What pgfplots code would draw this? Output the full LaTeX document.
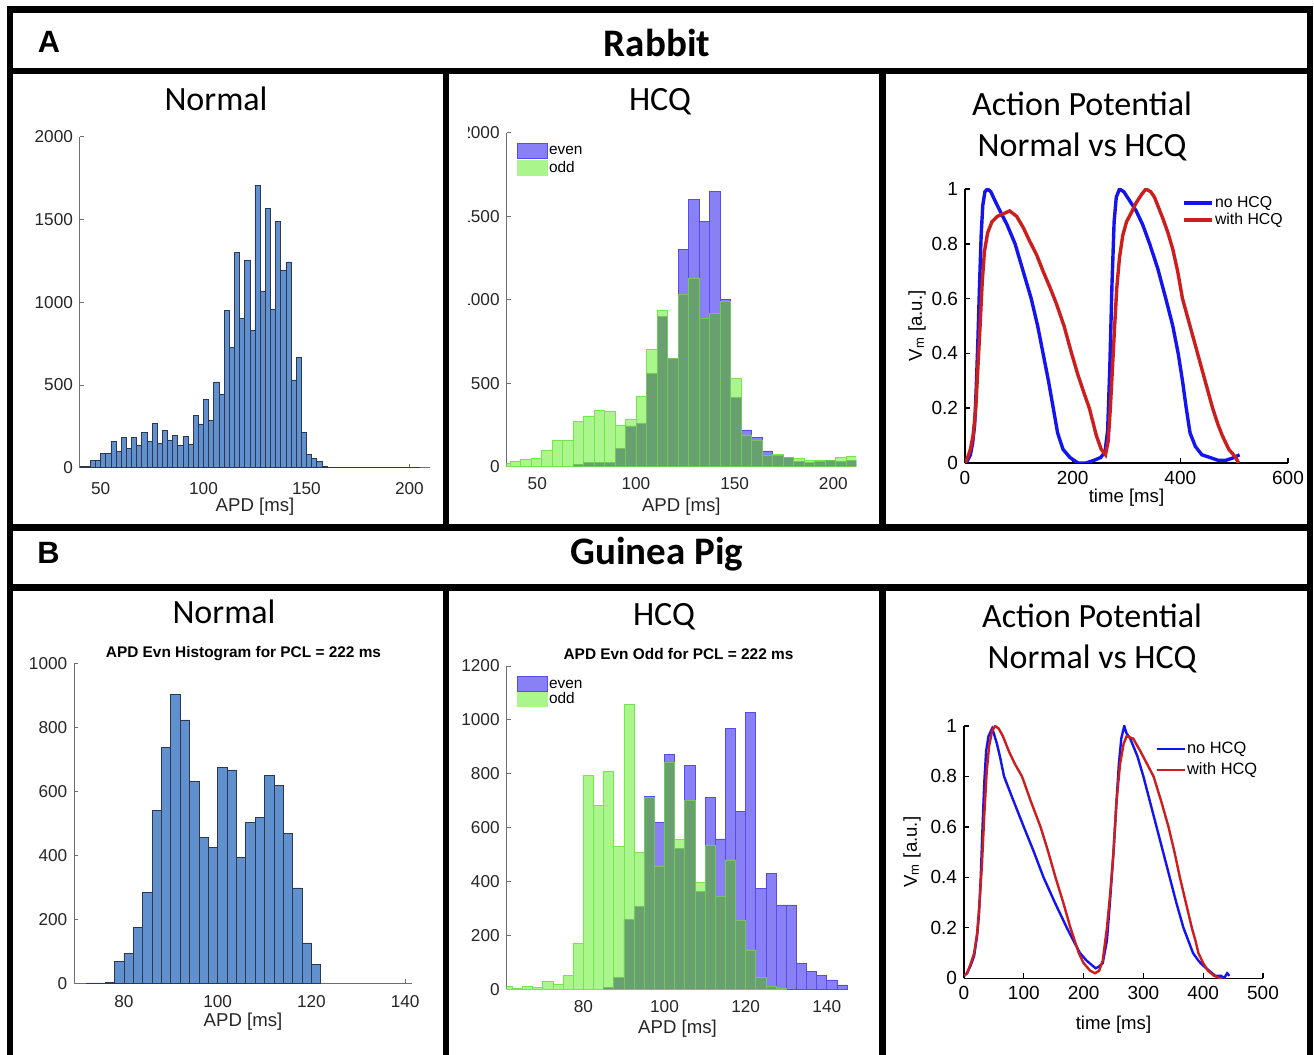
\documentclass[border=0pt]{standalone}
\usepackage{fontspec}
\setmainfont{Liberation Sans}
\newfontfamily\calibri{Carlito}
\usepackage{pgfplots}
\pgfplotsset{compat=1.18}

\definecolor{nbar}{RGB}{97,144,207}
\definecolor{nedge}{RGB}{45,55,80}
\definecolor{evenf}{RGB}{138,128,245}
\definecolor{evene}{RGB}{85,75,240}
\definecolor{oddf}{RGB}{170,245,140}
\definecolor{odde}{RGB}{115,230,75}
\definecolor{ovf}{RGB}{105,160,112}
\definecolor{ove}{RGB}{115,200,90}
\definecolor{apblue}{RGB}{20,20,240}
\definecolor{apred}{RGB}{205,30,30}
\definecolor{axgray}{RGB}{110,110,110}

\pgfplotsset{
  hist/.style={
    scale only axis, anchor=south west,
    axis x line=bottom, axis y line=left,
    axis line style={-, draw=axgray, line width=0.5pt},
    tick align=inside, major tick length=2pt,
    tick style={draw=axgray, line width=0.4pt},
    ticklabel style={font=\fontsize{8.6}{10}\selectfont, text=black!85},
    /pgf/number format/assume math mode=true,
    /pgf/number format/1000 sep={},
    xlabel style={font=\fontsize{9.3}{11}\selectfont, text=black!85, at={(axis description cs:0.5,0)}, anchor=center},
    ymin=0,
    legend style={draw=none, fill=none, at={(axis description cs:0,1)}, anchor=north west,
      font=\fontsize{7.7}{9}\selectfont, inner sep=0pt, row sep=0pt,
      nodes={inner sep=0.6pt, text height=5.8pt, text depth=1.6pt}},
    legend cell align=left,
  },
  apax/.style={
    scale only axis, anchor=south west,
    axis x line=bottom, axis y line=left,
    axis line style={-, draw=black, line width=1pt},
    tick align=inside, major tick length=2.5pt,
    tick style={draw=black, line width=0.8pt},
    ticklabel style={font=\fontsize{9.5}{11}\selectfont},
    /pgf/number format/assume math mode=true,
    xlabel style={font=\fontsize{9.3}{11}\selectfont, at={(axis description cs:0.5,0)}, anchor=center},
    ylabel style={font=\fontsize{9.3}{11}\selectfont, anchor=center},
    ymin=0, ymax=1, ytick={0,0.2,0.4,0.6,0.8,1},
    xticklabel style={yshift=-0.5pt},
    legend style={draw=none, fill=none, anchor=north west,
      font=\fontsize{7.9}{9}\selectfont, inner sep=0pt,
      nodes={inner sep=0.6pt, text height=5.8pt, text depth=1.6pt}},
    legend cell align=left,
    legend image code/.code={\draw[#1] (0pt,0pt) -- (14pt,0pt);},
  },
}

\begin{document}
\begin{tikzpicture}
\path[use as bounding box] (0,0) rectangle (657pt,527.5pt);
\fill[white] (0,0) rectangle (657pt,527.5pt);

% ---------- Rabbit Normal ----------
\begin{scope}
\clip (5pt,263.75pt) rectangle (223pt,492pt);
\begin{axis}[hist, at={(40pt,293.65pt)}, width=175pt, height=165.5pt,
  xmin=40, xmax=210, ymax=2000, xtick={50,100,150,200}, ytick={0,500,1000,1500,2000},
  xlabel={APD [ms]}, xlabel style={yshift=-19.5pt}, xticklabel style={yshift=-4pt}]
\addplot[ybar interval, fill=nbar, draw=nedge, line width=0.35pt] coordinates {
(40,10) (42.5,10) (45,46) (47.5,42) (50,87) (52.5,87) (55,161) (57.5,97) (60,183) (62.5,115)
(65,183) (67.5,137) (70,215) (72.5,157) (75,266) (77.5,147) (80,224) (82.5,167) (85,195) (87.5,133)
(90,189) (92.5,139) (95,316) (97.5,264) (100,413) (102.5,288) (105,518) (107.5,445) (110,949) (112.5,725)
(115,1303) (117.5,902) (120,1251) (122.5,828) (125,1708) (127.5,1065) (130,1569) (132.5,955) (135,1486) (137.5,1190)
(140,1243) (142.5,530) (145,665) (147.5,213) (150,80) (152.5,54) (155,36) (157.5,10) (160,3) (162.5,3)
(165,2) (167.5,2) (170,2) (172.5,1) (175,1) (177.5,3) (180,3) (182.5,3) (185,3) (187.5,3)
(190,2) (192.5,2) (195,2) (197.5,2) (200,2) (202.5,2) (205,0)};
\end{axis}
\end{scope}

% ---------- Rabbit HCQ ----------
\begin{scope}
\clip (234.2pt,263.75pt) rectangle (441.25pt,492pt);
\begin{axis}[hist, at={(253.35pt,294.15pt)}, width=174.65pt, height=167pt,
  xmin=34.5, xmax=211.5, ymax=2000, xtick={50,100,150,200}, ytick={0,500,1000,1500,2000},
  xlabel={APD [ms]}, xlabel style={yshift=-20pt}, xticklabel style={yshift=-2pt},
  legend style={xshift=5pt, yshift=-4.5pt}]
\addplot[ybar interval, fill=evenf, draw=evene, line width=0.35pt, forget plot] coordinates {
(68.2,16) (73.5,26) (78.9,28) (84.2,26) (89.5,110) (94.8,244) (100.1,260) (105.5,560) (110.8,900) (116.1,650)
(121.4,1300) (126.7,1600) (132.1,1470) (137.4,1650) (142.7,1000) (148.0,416) (153.3,220) (158.7,174) (164.0,94) (169.3,70)
(174.6,54) (179.9,34) (185.3,26) (190.6,30) (195.9,36) (201.2,34) (206.5,40) (211.9,0)};
\addplot[ybar interval, fill=oddf, draw=odde, line width=0.35pt, forget plot] coordinates {
(31.0,20) (36.3,30) (41.6,44) (46.9,50) (52.3,100) (57.6,160) (62.9,160) (68.2,270) (73.5,304) (78.9,340)
(84.2,330) (89.5,250) (94.8,286) (100.1,420) (105.5,700) (110.8,936) (116.1,650) (121.4,1030) (126.7,1130) (132.1,890)
(137.4,918) (142.7,990) (148.0,530) (153.3,190) (158.7,160) (164.0,70) (169.3,74) (174.6,54) (179.9,50) (185.3,36)
(190.6,36) (195.9,40) (201.2,56) (206.5,60) (211.9,0)};
\addplot[ybar interval, fill=ovf, draw=ove, line width=0.35pt, forget plot] coordinates {
(68.2,16) (73.5,26) (78.9,28) (84.2,26) (89.5,110) (94.8,244) (100.1,260) (105.5,560) (110.8,900) (116.1,650)
(121.4,1030) (126.7,1130) (132.1,890) (137.4,918) (142.7,990) (148.0,416) (153.3,190) (158.7,160) (164.0,70) (169.3,70)
(174.6,54) (179.9,34) (185.3,26) (190.6,30) (195.9,36) (201.2,34) (206.5,40) (211.9,0)};
\addlegendimage{legend image code/.code={\filldraw[fill=evenf, draw=evene, line width=0.3pt] (0pt,-3.6pt) rectangle (15pt,3.6pt);}}
\addlegendentry{even}
\addlegendimage{legend image code/.code={\fill[oddf] (0pt,-3.6pt) rectangle (15pt,3.6pt);}}
\addlegendentry{odd}
\end{axis}
\end{scope}

% ---------- Rabbit AP ----------
\begin{scope}
\clip (441.25pt,263.75pt) rectangle (655pt,492pt);
\begin{axis}[apax, at={(482.5pt,296pt)}, width=161.5pt, height=137pt,
  xmin=0, xmax=600, xtick={0,200,400,600},
  xlabel={time [ms]}, xlabel style={yshift=-17.3pt},
  ylabel={V\textsubscript{m} [a.u.]}, ylabel style={at={(axis description cs:-0.1486,0.5)}},
  legend style={at={(axis description cs:0.672,1)}, yshift=-2.5pt}]
\addplot[apblue, line width=1.7pt] coordinates {
(0,0) (5,0.01) (10,0.03) (14,0.07) (18,0.14) (21,0.28) (24,0.45) (27,0.65) (30,0.83) (33,0.94)
(37,0.99) (42,1.0) (48,0.99) (55,0.96) (65,0.92) (78,0.87) (93,0.8) (108,0.7) (123,0.6) (135,0.5)
(145,0.4) (155,0.3) (164,0.2) (172,0.11) (182,0.05) (195,0.02) (210,0.0) (225,0.0) (240,0.01) (252,0.02)
(260,0.04) (265,0.12) (269,0.35) (273,0.65) (277,0.88) (281,0.97) (287,1.0) (295,0.99) (305,0.96) (318,0.92)
(330,0.87) (343,0.8) (358,0.71) (373,0.6) (386,0.5) (396,0.4) (404,0.3) (411,0.2) (418,0.11) (428,0.06)
(440,0.03) (455,0.02) (470,0.01) (485,0.01) (500,0.02) (510,0.03)};
\addlegendentry{no HCQ}
\addplot[apred, line width=1.7pt] coordinates {
(0,0) (5,0.02) (10,0.05) (15,0.1) (20,0.2) (24,0.35) (28,0.5) (32,0.66) (36,0.77) (42,0.84)
(50,0.88) (60,0.9) (72,0.91) (83,0.92) (96,0.9) (108,0.86) (120,0.81) (133,0.76) (145,0.7) (158,0.64)
(170,0.58) (184,0.5) (198,0.4) (210,0.32) (222,0.25) (231,0.2) (244,0.1) (253,0.05) (261,0.03) (266,0.08)
(270,0.2) (274,0.35) (278,0.5) (282,0.64) (287,0.75) (293,0.83) (300,0.88) (308,0.91) (318,0.95) (328,0.98)
(336,1.0) (345,0.99) (352,0.97) (360,0.93) (368,0.89) (377,0.84) (386,0.78) (395,0.7) (404,0.6) (418,0.5)
(432,0.4) (446,0.3) (460,0.2) (470,0.14) (478,0.1) (490,0.05) (503,0.02) (508,0.0)};
\addlegendentry{with HCQ}
\end{axis}
\end{scope}

% ---------- Guinea Pig Normal ----------
\begin{scope}
\clip (5pt,0pt) rectangle (223pt,233.75pt);
\begin{axis}[hist, at={(37.15pt,35.85pt)}, width=168.7pt, height=160pt,
  xmin=69.4, xmax=141.4, ymax=1000, xtick={80,100,120,140}, ytick={0,200,400,600,800,1000},
  xlabel={APD [ms]}, xlabel style={yshift=-19.2pt}, xticklabel style={yshift=-2.5pt}]
\addplot[ybar interval, fill=nbar, draw=nedge, line width=0.35pt] coordinates {
(72,1) (74,1) (76,3) (78,68) (80,94) (82,175) (84,284) (86,540) (88,737) (90,904)
(92,823) (94,632) (96,457) (98,424) (100,674) (102,667) (104,394) (106,502) (108,519) (110,650)
(112,618) (114,469) (116,298) (118,126) (120,60) (122,0)};
\end{axis}
\end{scope}

% ---------- Guinea Pig HCQ ----------
\begin{scope}
\clip (223pt,0pt) rectangle (441.25pt,233.75pt);
\begin{axis}[hist, at={(253.35pt,32.85pt)}, width=170.8pt, height=161.65pt,
  xmin=61.1, xmax=145.3, ymax=1200, xtick={80,100,120,140}, ytick={0,200,400,600,800,1000,1200},
  xlabel={APD [ms]}, xlabel style={yshift=-19.5pt}, xticklabel style={yshift=-2pt},
  legend style={xshift=5pt, yshift=-4.5pt, row sep=-1pt}]
\addplot[ybar interval, fill=evenf, draw=evene, line width=0.35pt, forget plot] coordinates {
(85,6) (87.5,45) (90,260) (92.5,307) (95,715) (97.5,619) (100,873) (102.5,523) (105,832) (107.5,362)
(110,711) (112.5,558) (115,968) (117.5,659) (120,1028) (122.5,375) (125,430) (127.5,313) (130,313) (132.5,96)
(135,66) (137.5,50) (140,35) (142.5,16) (145,0)};
\addplot[ybar interval, fill=oddf, draw=odde, line width=0.35pt, forget plot] coordinates {
(60,10) (62.5,4) (65,10) (67.5,7) (70,28) (72.5,20) (75,50) (77.5,171) (80,795) (82.5,684)
(85,808) (87.5,529) (90,1058) (92.5,507) (95,712) (97.5,458) (100,842) (102.5,557) (105,700) (107.5,396)
(110,536) (112.5,344) (115,480) (117.5,255) (120,146) (122.5,43) (125,10) (127.5,2) (130,0)};
\addplot[ybar interval, fill=ovf, draw=ove, line width=0.35pt, forget plot] coordinates {
(85,6) (87.5,45) (90,260) (92.5,307) (95,712) (97.5,458) (100,842) (102.5,523) (105,700) (107.5,362)
(110,536) (112.5,344) (115,480) (117.5,255) (120,146) (122.5,43) (125,10) (127.5,2) (130,0)};
\addlegendimage{legend image code/.code={\filldraw[fill=evenf, draw=evene, line width=0.3pt] (0pt,-3.6pt) rectangle (15pt,3.6pt);}}
\addlegendentry{even}
\addlegendimage{legend image code/.code={\fill[oddf] (0pt,-3.6pt) rectangle (15pt,3.6pt);}}
\addlegendentry{odd}
\end{axis}
\end{scope}

% ---------- Guinea Pig AP ----------
\begin{scope}
\clip (441.25pt,0pt) rectangle (655pt,233.75pt);
\begin{axis}[apax, at={(482pt,38.35pt)}, width=149.5pt, height=126.15pt,
  axis line style={line width=0.75pt}, tick style={line width=0.6pt},
  xmin=0, xmax=500, xtick={0,100,200,300,400,500},
  xlabel={time [ms]}, xlabel style={yshift=-23.4pt},
  ylabel={V\textsubscript{m} [a.u.]}, ylabel style={at={(axis description cs:-0.174,0.5)}},
  legend style={at={(axis description cs:0.639,1)}, yshift=-7pt, row sep=2pt, font=\fontsize{8.2}{9}\selectfont}]
\addplot[apblue, line width=1.2pt] coordinates {
(0,0.01) (5,0.02) (11,0.05) (17,0.09) (22,0.17) (25,0.25) (28,0.4) (31,0.6) (34,0.78) (37,0.9)
(41,0.96) (47,0.99) (50,0.97) (55,0.93) (60,0.88) (67,0.8) (80,0.72) (90,0.66) (100,0.6) (117,0.5)
(133,0.4) (152,0.3) (172,0.2) (185,0.14) (194,0.1) (205,0.07) (215,0.05) (220,0.04) (225,0.045) (232,0.06)
(239,0.15) (244,0.3) (250,0.5) (255,0.7) (259,0.85) (263,0.95) (268,1.0) (272,0.97) (278,0.95) (290,0.88)
(300,0.8) (311,0.7) (322,0.6) (333,0.5) (344,0.4) (355,0.3) (367,0.2) (375,0.15) (383,0.1) (392,0.07)
(400,0.05) (410,0.03) (420,0.01) (430,0.01) (435,0.0) (440,0.02) (444,0.01)};
\addlegendentry{no HCQ}
\addplot[apred, line width=1.2pt] coordinates {
(0,0.01) (5,0.02) (10,0.05) (17,0.1) (22,0.18) (26,0.3) (30,0.45) (34,0.65) (38,0.82) (42,0.92)
(47,0.98) (52,1.0) (58,0.99) (65,0.96) (75,0.9) (85,0.85) (97,0.8) (112,0.7) (128,0.6) (141,0.5)
(153,0.4) (166,0.3) (178,0.2) (185,0.15) (192,0.1) (200,0.06) (211,0.03) (219,0.02) (226,0.03) (232,0.07)
(239,0.2) (245,0.35) (250,0.5) (255,0.7) (261,0.85) (267,0.93) (272,0.96) (283,0.95) (295,0.9) (306,0.85)
(317,0.8) (330,0.7) (342,0.6) (352,0.5) (361,0.4) (371,0.3) (381,0.2) (387,0.15) (392,0.1) (400,0.06)
(408,0.03) (418,0.01) (428,0.0) (432,0.0)};
\addlegendentry{with HCQ}
\end{axis}
\end{scope}

% ---------- titles ----------
\node[font=\bfseries\fontsize{15.4}{18}\selectfont, anchor=base] at (24.5pt,501pt) {A};
\node[font=\calibri\bfseries\fontsize{19.5}{22}\selectfont, anchor=base] at (328.5pt,499pt) {Rabbit};
\node[font=\bfseries\fontsize{15.4}{18}\selectfont, anchor=base] at (24.25pt,245.5pt) {B};
\node[font=\calibri\bfseries\fontsize{19.5}{22}\selectfont, anchor=base] at (328.5pt,245pt) {Guinea Pig};

\node[font=\calibri\fontsize{17}{20}\selectfont, anchor=base] at (108pt,472pt) {Normal};
\node[font=\calibri\fontsize{17}{20}\selectfont, anchor=base] at (330pt,472pt) {HCQ};
\node[font=\calibri\fontsize{17}{20}\selectfont, anchor=base] at (541pt,469.5pt) {Action Potential};
\node[font=\calibri\fontsize{17}{20}\selectfont, anchor=base] at (541pt,449pt) {Normal vs HCQ};

\node[font=\calibri\fontsize{17}{20}\selectfont, anchor=base] at (112pt,215.5pt) {Normal};
\node[font=\calibri\fontsize{17}{20}\selectfont, anchor=base] at (332pt,214.5pt) {HCQ};
\node[font=\calibri\fontsize{17}{20}\selectfont, anchor=base] at (546pt,213.5pt) {Action Potential};
\node[font=\calibri\fontsize{17}{20}\selectfont, anchor=base] at (546pt,193pt) {Normal vs HCQ};

\node[font=\bfseries\fontsize{7.7}{9}\selectfont, anchor=base] at (121.75pt,198.5pt) {APD Evn Histogram for PCL = 222 ms};
\node[font=\bfseries\fontsize{7.7}{9}\selectfont, anchor=base] at (339.25pt,197.5pt) {APD Evn Odd for PCL = 222 ms};

% ---------- frame ----------
\begin{scope}[line width=3.25pt, black]
\draw[line join=miter] (5pt,0pt) -- (5pt,522.75pt) -- (655pt,522.75pt) -- (655pt,0pt);
\draw (5pt,492pt) -- (655pt,492pt);
\draw (5pt,263.75pt) -- (655pt,263.75pt);
\draw (5pt,233.75pt) -- (655pt,233.75pt);
\draw (223pt,492pt) -- (223pt,263.75pt);
\draw (441.25pt,492pt) -- (441.25pt,263.75pt);
\draw (223pt,233.75pt) -- (223pt,0pt);
\draw (441.25pt,233.75pt) -- (441.25pt,0pt);
\end{scope}
\end{tikzpicture}
\end{document}
